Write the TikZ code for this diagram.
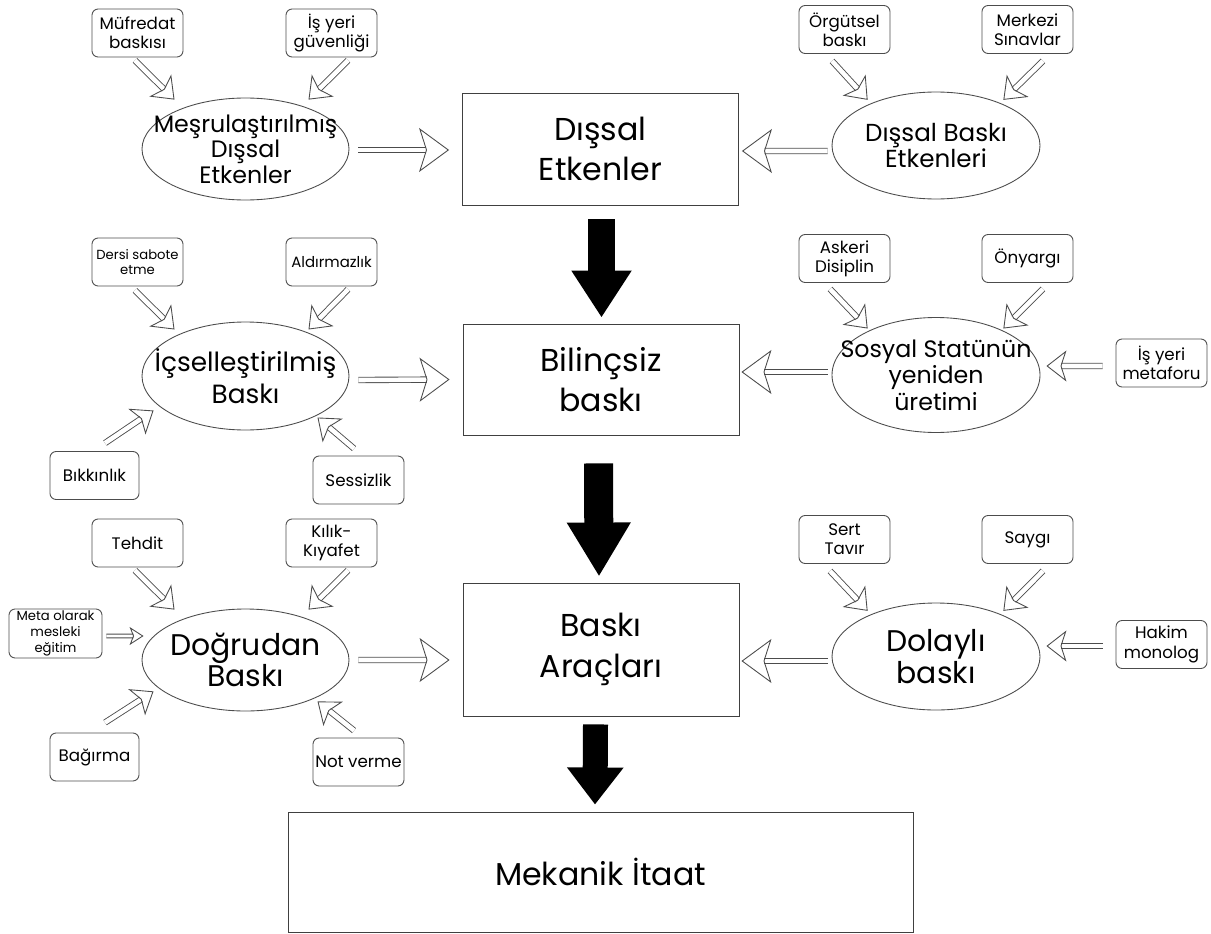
\documentclass[tikz,border=0pt]{standalone}
\usepackage{fontspec}
\setmainfont{Poppins}
\usetikzlibrary{arrows.meta,shapes.geometric}

\begin{document}
\begin{tikzpicture}
        \tikzset{etken/.style = {draw=black!75, line width=0.5pt, rectangle, minimum width=5.52cm, align=center, font=\fontsize{18}{23}\selectfont}}
        \tikzset{kavram/.style = {draw=black!70, line width=0.5pt, ellipse, inner xsep=-0.6cm, inner ysep=-0.3cm, minimum width=4.14cm, minimum height=2.04cm, align=center, font=\fontsize{14}{15}\selectfont}}
        \tikzset{kutu/.style = {draw=black!70, line width=0.5pt, rounded corners=3.5pt, minimum width=1.82cm, minimum height=0.96cm, inner sep=1pt, align=center, font=\fontsize{9.5}{11}\selectfont}}
        \tikzset{hollow/.style = {draw=black!70, line width=0.5pt, double=white, double distance=2.6pt, -{Stealth[open, length=0.4cm, width=0.62cm, inset=0.1cm]}}}
        \tikzset{hollowwide/.style = {hollow, -{Stealth[open, length=0.6cm, width=0.88cm, inset=0.14cm]}}}
        \tikzset{hollowthin/.style = {hollow, double distance=1.6pt, -{Stealth[open, length=0.28cm, width=0.36cm, inset=0.07cm]}}}
        \tikzset{kalin/.style = {black}}

        \useasboundingbox (0,0) rectangle (24.22,-18.68);

        \node[etken, minimum height=2.24cm] (dis) at (12.01,-2.98) {Dışsal\\Etkenler};
        \node[etken, minimum height=2.22cm] (bil) at (12.02,-7.59) {Bilinçsiz\\baskı};
        \node[etken, minimum height=2.66cm] (arac) at (12.02,-12.99) {Baskı\\Araçları};
        \node[etken, minimum width=12.5cm, minimum height=2.4cm] (itaat) at (12.01,-17.44) {Mekanik İtaat};

        \node[kavram, font=\fontsize{13.5}{14.5}\selectfont] (mesru) at (4.91,-2.98) {Meşrulaştırılmış\\Dışsal\\Etkenler};
        \node[kavram, minimum width=4.16cm, minimum height=2.14cm] (disbaski) at (18.72,-2.91) {Dışsal Baskı\\Etkenleri};
        \node[kavram, minimum height=2.16cm, font=\fontsize{15}{18}\selectfont] (icsel) at (4.91,-7.52) {İçselleştirilmiş\\Baskı};
        \node[kavram, minimum width=4.16cm, minimum height=2.3cm, font=\fontsize{13.5}{15}\selectfont] (sosyal) at (18.72,-7.5) {Sosyal Statünün\\yeniden\\üretimi};
        \node[kavram, font=\fontsize{17}{18}\selectfont] (dogru) at (4.91,-13.2) {Doğrudan\\Baskı};
        \node[kavram, minimum width=4.16cm, minimum height=2.14cm, font=\fontsize{17}{18}\selectfont] (dolayli) at (18.72,-13.13) {Dolaylı\\baskı};

        \node[kutu] (mufredat) at (2.75,-0.66) {Müfredat\\baskısı};
        \node[kutu] (isguven) at (6.63,-0.66) {İş yeri\\güvenliği};
        \node[kutu] (orgutsel) at (16.89,-0.59) {Örgütsel\\baskı};
        \node[kutu] (merkezi) at (20.55,-0.59) {Merkezi\\Sınavlar};

        \node[kutu, font=\fontsize{7.5}{9}\selectfont] (dersi) at (2.75,-5.24) {Dersi sabote\\etme};
        \node[kutu, font=\fontsize{8.5}{10}\selectfont] (aldirma) at (6.63,-5.24) {Aldırmazlık};
        \node[kutu, minimum width=1.78cm] (bikkin) at (1.89,-9.51) {Bıkkınlık};
        \node[kutu] (sessiz) at (7.17,-9.6) {Sessizlik};
        \node[kutu] (askeri) at (16.89,-5.17) {Askeri\\Disiplin};
        \node[kutu] (onyargi) at (20.55,-5.17) {Önyargı};
        \node[kutu] (metafor) at (23.23,-7.26) {İş yeri\\metaforu};

        \node[kutu] (tehdit) at (2.75,-10.86) {Tehdit};
        \node[kutu] (kilik) at (6.63,-10.86) {Kılık-\\Kıyafet};
        \node[kutu, minimum width=1.86cm, minimum height=0.98cm, font=\fontsize{7.5}{9}\selectfont] (meta) at (1.11,-12.67) {Meta olarak\\mesleki\\eğitim};
        \node[kutu, minimum width=1.78cm] (bagirma) at (1.89,-15.14) {Bağırma};
        \node[kutu] (notverme) at (7.17,-15.24) {Not verme};
        \node[kutu] (sert) at (16.89,-10.79) {Sert\\Tavır};
        \node[kutu] (saygi) at (20.55,-10.79) {Saygı};
        \node[kutu] (hakim) at (23.23,-12.89) {Hakim\\monolog};

        \draw[hollow] ([shift={(-0.05,-0.06)}]mufredat.south) to ([shift={(0.05,0.26)}]mesru.north west);
        \draw[hollow] ([shift={(0.33,-0.06)}]isguven.south) to ([shift={(-0.21,0.26)}]mesru.north east);
        \draw[hollowwide] ([shift={(0.18,-0.02)}]mesru.east) to ([shift={(-0.26,-0.02)}]dis.west);
        \draw[hollow] ([shift={(-0.25,-0.14)}]orgutsel.south) to ([shift={(0.11,0.15)}]disbaski.north west);
        \draw[hollow] ([shift={(0.31,-0.14)}]merkezi.south) to ([shift={(-0.13,0.15)}]disbaski.north east);
        \draw[hollowwide] ([shift={(-0.08,-0.11)}]disbaski.west) to ([shift={(0.06,-0.04)}]dis.east);

        \draw[hollow] ([shift={(-0.05,-0.08)}]dersi.south) to ([shift={(0.05,0.16)}]icsel.north west);
        \draw[hollow] ([shift={(0.33,-0.06)}]aldirma.south) to ([shift={(-0.21,0.16)}]icsel.north east);
        \draw[hollow] ([shift={(0.21,0.16)}]bikkin.north) to ([shift={(-0.37,0.08)}]icsel.south west);
        \draw[hollow] ([shift={(-0.09,0.14)}]sessiz.north) to ([shift={(-0.03,-0.06)}]icsel.south east);
        \draw[hollowwide] ([shift={(0.18,-0.08)}]icsel.east) to ([shift={(-0.26,0)}]bil.west);
        \draw[hollow] ([shift={(-0.29,-0.12)}]askeri.south) to ([shift={(0.11,0.11)}]sosyal.north west);
        \draw[hollow] ([shift={(0.31,-0.12)}]onyargi.south) to ([shift={(-0.13,0.11)}]sosyal.north east);
        \draw[hollow] ([shift={(-0.26,-0.06)}]metafor.west) to ([shift={(0.12,0.18)}]sosyal.east);
        \draw[hollowwide] ([shift={(-0.08,0.06)}]sosyal.west) to ([shift={(0.04,0.15)}]bil.east);

        \draw[hollow] ([shift={(-0.05,-0.06)}]tehdit.south) to ([shift={(0.05,0.28)}]dogru.north west);
        \draw[hollow] ([shift={(0.33,-0.06)}]kilik.south) to ([shift={(-0.21,0.28)}]dogru.north east);
        \draw[hollowthin] ([shift={(0.08,-0.05)}]meta.east) to ([shift={(0.04,0.48)}]dogru.west);
        \draw[hollow] ([shift={(0.21,0.2)}]bagirma.north) to ([shift={(-0.37,0.1)}]dogru.south west);
        \draw[hollow] ([shift={(-0.09,0.14)}]notverme.north) to ([shift={(-0.03,-0.1)}]dogru.south east);
        \draw[hollowwide] ([shift={(0.18,0)}]dogru.east) to ([shift={(-0.26,-0.21)}]arac.west);
        \draw[hollow] ([shift={(-0.29,-0.14)}]sert.south) to ([shift={(0.11,0.15)}]dolayli.north west);
        \draw[hollow] ([shift={(0.31,-0.14)}]saygi.south) to ([shift={(-0.13,0.15)}]dolayli.north east);
        \draw[hollow] ([shift={(-0.26,-0.03)}]hakim.west) to ([shift={(0.12,0.21)}]dolayli.east);
        \draw[hollowwide] ([shift={(-0.08,-0.09)}]dolayli.west) to ([shift={(0.04,-0.23)}]arac.east);

        \draw[kalin, line width=0.54cm, -{Triangle[length=0.94cm, width=1.14cm]}] ([shift={(0.02,-0.28)}]dis.south) to ([shift={(0.01,0.12)}]bil.north);
        \draw[kalin, line width=0.58cm, -{Triangle[length=1.08cm, width=1.2cm]}] ([shift={(-0.05,-0.56)}]bil.south) to ([shift={(-0.04,0.12)}]arac.north);
        \draw[kalin, line width=0.5cm, -{Triangle[length=0.74cm, width=1.08cm]}] ([shift={(-0.11,-0.16)}]arac.south) to ([shift={(-0.11,0.14)}]itaat.north);
    \end{tikzpicture}
\end{document}
